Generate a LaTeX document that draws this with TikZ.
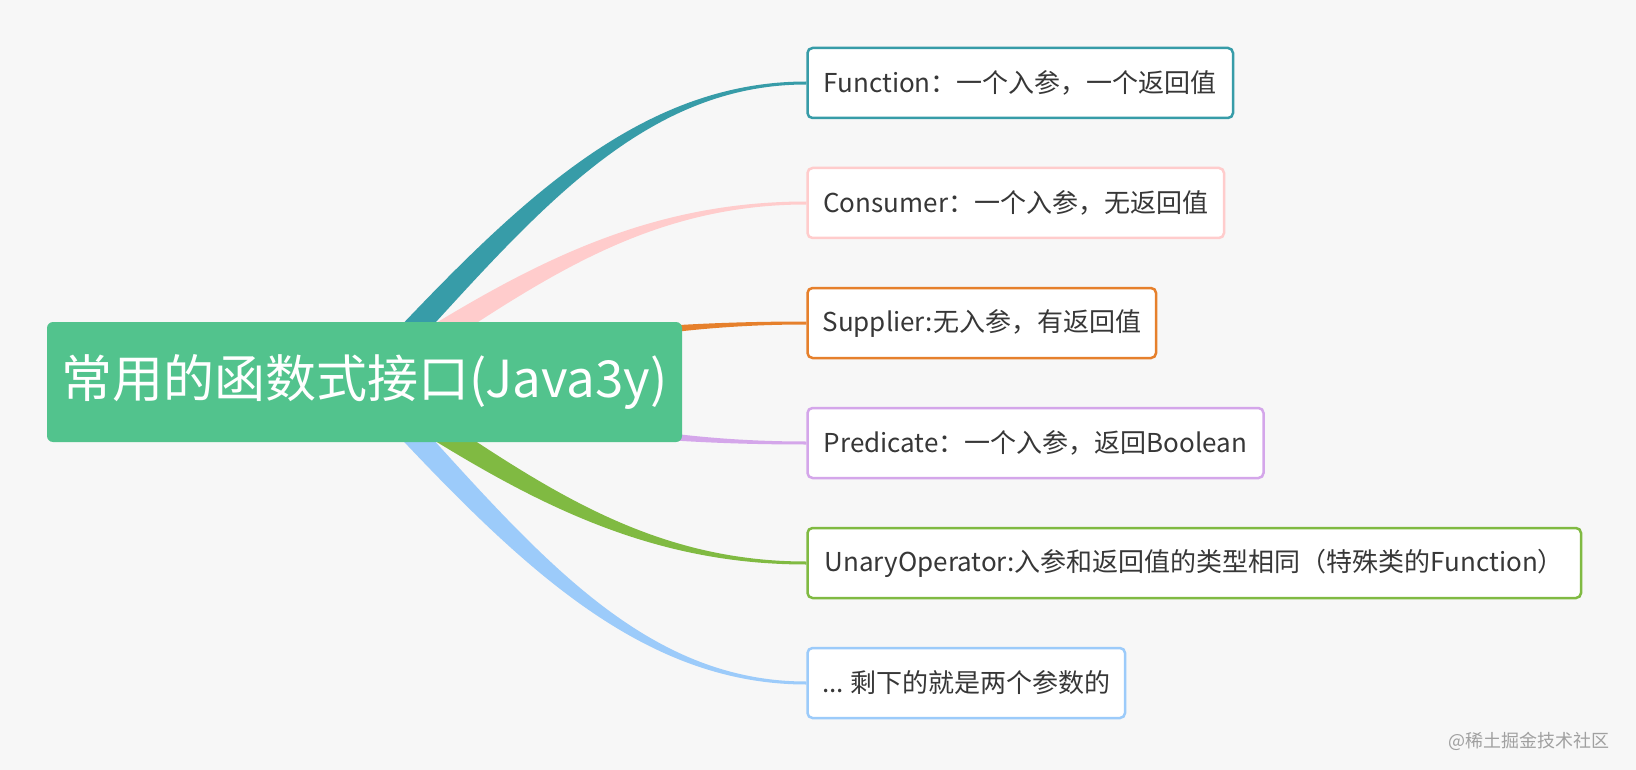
\documentclass[tikz,border=0pt]{standalone}
\usepackage{fontspec}
\setmainfont{Noto Sans CJK SC}
\usetikzlibrary{calc}
\definecolor{bgcol}{RGB}{247,247,247}
\definecolor{rootcol}{RGB}{82,195,141}
\definecolor{cfun}{RGB}{55,156,168}
\definecolor{ccon}{RGB}{255,204,204}
\definecolor{csup}{RGB}{230,128,44}
\definecolor{cpre}{RGB}{212,166,234}
\definecolor{cuna}{RGB}{128,186,66}
\definecolor{crest}{RGB}{156,203,250}
\definecolor{txtcol}{RGB}{55,55,55}
\definecolor{markcol}{RGB}{160,160,160}
\pgfdeclarelayer{bg}
\pgfsetlayers{bg,main}

\begin{document}
\begin{tikzpicture}[x=1pt,y=-1pt,
  rootbox/.style={fill=rootcol,rounded corners=6pt,minimum width=635pt,minimum height=120pt,
    inner sep=0pt,text=white,font=\fontsize{51}{60}\selectfont},
  leaf/.style={draw=#1,fill=white,line width=2.5pt,rounded corners=5pt,minimum height=70pt,
    inner xsep=15pt,anchor=west,text=txtcol,font=\fontsize{26}{30}\selectfont}]
\useasboundingbox (0,0) rectangle (1636,770);

\node[rootbox] (root) at (364.5,382) {常用的函数式接口(Java3y)};

\foreach \i/\w/\col/\lab in {1/425.5/cfun/{Function：一个入参，一个返回值},
    2/416.5/ccon/{Consumer：一个入参，无返回值},
    3/348.5/csup/{Supplier:无入参，有返回值},
    4/456/cpre/{Predicate：一个入参，返回Boolean},
    5/773.5/cuna/{UnaryOperator:入参和返回值的类型相同（特殊类的Function）},
    6/317.5/crest/{...~剩下的就是两个参数的}}{
  \node[leaf=\col,minimum width=\w pt] (c\i) at (806.25,{83+120*(\i-1)}) {\lab};
}

\node[anchor=east,text=markcol,font=\fontsize{18}{20}\selectfont] (mark) at (1613,741) {@稀土掘金技术社区};

\begin{pgfonlayer}{bg}
\fill[bgcol] (0,0) rectangle (1636,770);
% tapered branches, root -> leaves
\foreach \i/\col in {1/cfun,2/ccon,3/csup,4/cpre,5/cuna,6/crest}{
  \path let \p0=(root.center), \p3=(c\i.west) in
    coordinate (p0) at (\p0)
    coordinate (p3) at (\p3)
    coordinate (q1) at ({\x0+0.33*(\x3-\x0)},{\y0+0.52*(\y3-\y0)})
    coordinate (q2) at ({\x3-0.4*(\x3-\x0)},\y3);
  \fill[\col] ($(p0)!12pt!90:(q1)$) .. controls ($(q1)!12pt!-90:(p0)$) and ($(q2)+(0pt,1.5pt)$) .. ($(p3)+(0pt,1.5pt)$)
    -- ($(p3)+(0pt,-1.5pt)$) .. controls ($(q2)+(0pt,-1.5pt)$) and ($(q1)!12pt!90:(p0)$) .. ($(p0)!12pt!-90:(q1)$) -- cycle;
}
\end{pgfonlayer}
\end{tikzpicture}
\end{document}
